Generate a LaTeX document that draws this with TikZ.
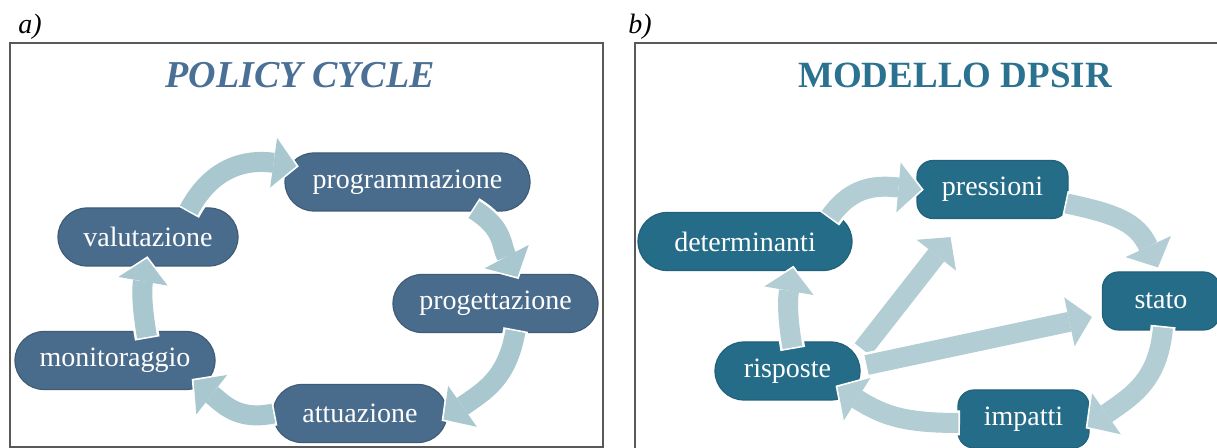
\documentclass[tikz,border=0pt]{standalone}
\usepackage{fontspec}
\setmainfont{Liberation Serif}
\usetikzlibrary{arrows.meta}
\definecolor{slateA}{HTML}{4A6C8C}
\definecolor{tealB}{HTML}{256C88}
\definecolor{shaftA}{HTML}{A9C7CE}
\definecolor{shaftB}{HTML}{B2CDD3}
\definecolor{headA}{HTML}{4A7096}
\definecolor{headB}{HTML}{2B7290}
\tikzset{boxa/.style={
    rectangle,
    rounded corners=14.5pt,
    draw=slateA!85!black,
    line width=0.6pt,
    fill=slateA,
    text=white,
    font=\fontsize{14}{16}\selectfont,
    minimum height=29pt,
    inner sep=0pt
  },
  boxb/.style={boxa,fill=tealB,draw=tealB!90!black},
  tabb/.style={boxb,rounded corners=8pt},
  arr/.style={line width=10pt,
    -{Triangle[length=11.5pt,width=25pt,line width=0pt]},
    preaction={draw=white,line width=12.5pt,
      -{Triangle[length=13.5pt,width=29pt,line width=0pt]},
      shorten >=-1.2pt,shorten <=-0.8pt}},
  arra/.style={arr,draw=shaftA},
  arrb/.style={arr,draw=shaftB},
  frm/.style={draw=black!65,line width=0.8pt},
  ttl/.style={anchor=base,font=\fontsize{19}{22}\selectfont\bfseries},
  lbl/.style={anchor=base west,inner sep=0pt,font=\fontsize{14}{16}\selectfont\itshape}
}
\begin{document}
\begin{tikzpicture}[x=0.5pt,y=0.5pt]
  \useasboundingbox (0,0) rectangle (1217,-448);
  \draw[frm] (10,-43) rectangle (603,-447);
  \draw[frm] (1217,-43) -| (635,-448);
  \node[lbl] (laba) at (18,-34) {a)};
  \node[lbl] (labb) at (628,-34) {b)};
  \node[ttl,text=headA,font=\fontsize{19}{22}\selectfont\bfseries\itshape] (ttla) at (300,-88) {POLICY CYCLE};
  \node[ttl,text=headB,font=\fontsize{18.5}{22}\selectfont\bfseries] (ttlb) at (955,-88) {MODELLO DPSIR};

  \node[boxa,minimum width=122.5pt] (prog) at (407.5,-182) {programmazione};
  \node[boxa,minimum width=90pt] (valu) at (148,-237) {valutazione};
  \node[boxa,minimum width=102.5pt] (proj) at (495.5,-303.5) {progettazione};
  \node[boxa,minimum width=100pt] (moni) at (115,-360.5) {monitoraggio};
  \node[boxa,minimum width=87pt] (attu) at (360,-413.5) {attuazione};

  \node[boxb,minimum width=107pt] (det) at (745,-241.5) {determinanti};
  \node[tabb,minimum width=75.5pt] (press) at (992.5,-189.5) {pressioni};
  \node[tabb,minimum width=58.5pt] (stato) at (1161,-301) {stato};
  \node[boxb,minimum width=72.5pt] (risp) at (787.5,-371) {risposte};
  \node[tabb,minimum width=65.5pt] (imp) at (1023.5,-419) {impatti};

  \draw[arra] ([shift={(0,-3)}]valu.36) to[out=62,in=172,looseness=1.1] ([shift={(12,16)}]prog.west);
  \draw[arra] ([shift={(0,2)}]prog.-24) to[out=-32,in=118,looseness=1.15] ([shift={(22,-3)}]proj.north);
  \draw[arra] ([shift={(20,2)}]proj.south) to[out=-100,in=35,looseness=1.1] ([shift={(-4,-6)}]attu.east);
  \draw[arra] ([shift={(1,0)}]attu.west) to[out=192,in=-38,looseness=1.1] ([shift={(-22,-20)}]moni.east);
  \draw[arra] ([shift={(32,-6)}]moni.north) to[out=100,in=-100] ([shift={(-1,8)}]valu.south);

  \draw[arrb] ([shift={(85,-5)}]det.north) to[out=55,in=175,looseness=1.1] ([shift={(5,0)}]press.west);
  \draw[arrb] ([shift={(-2,-14)}]press.east) to[out=-12,in=115,looseness=1.15] ([shift={(-3,4)}]stato.north);
  \draw[arrb] ([shift={(2,3)}]stato.south) to[out=-95,in=35,looseness=1.1] ([shift={(-2,-8)}]imp.east);
  \draw[arrb] ([shift={(1,-4)}]imp.west) to[out=180,in=-32,looseness=1.1] ([shift={(-23,-16)}]risp.east);
  \draw[arrb] ([shift={(5,-6)}]risp.north) to[out=100,in=-100] ([shift={(48,3)}]det.south);
  \draw[arrb] ([shift={(2,-8)}]risp.north east) -- ([shift={(-42,-18)}]press.south);
  \draw[arrb] ([shift={(6,6)}]risp.east) -- ([shift={(-10,-16)}]stato.west);
\end{tikzpicture}
\end{document}
